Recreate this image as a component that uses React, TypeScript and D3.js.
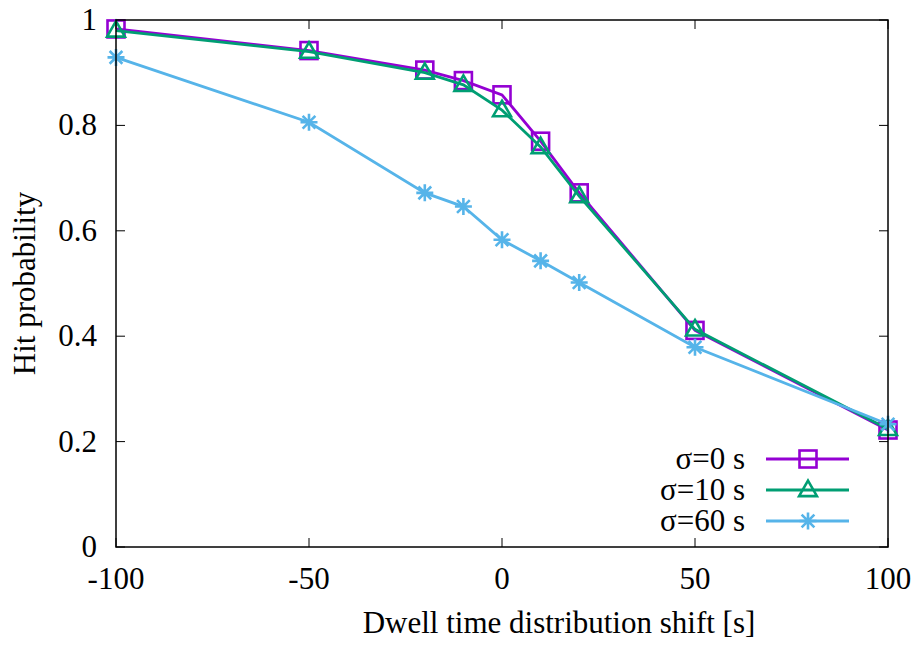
import React from "react";
import * as d3 from "d3";

const xValues = [-100, -50, -20, -10, 0, 10, 20, 50, 100];
const sigma0 = [0.983, 0.942, 0.905, 0.885, 0.858, 0.77, 0.672, 0.411, 0.222];
const sigma10 = [0.98, 0.94, 0.9, 0.877, 0.829, 0.759, 0.666, 0.413, 0.224];
const sigma60 = [0.929, 0.806, 0.672, 0.646, 0.583, 0.543, 0.502, 0.379, 0.233];
const seriesNames = ["σ=0 s", "σ=10 s", "σ=60 s"];
const xTicks = [-100, -50, 0, 50, 100];
const yTicks = [0, 0.2, 0.4, 0.6, 0.8, 1];

const colors = ["#9400d3", "#009e73", "#56b4e9"];
const markers = ["square", "triangle", "star"];

const W = 920, H = 646;
const L = 116, R = 888, T = 20, B = 547;
const FONT = "'Liberation Serif', 'Times New Roman', Times, serif";
const FS = 31;

function Marker({ type, x, y, color }: { type: string; x: number; y: number; color: string }) {
  const s = 8.5;
  if (type === "square") {
    return <rect x={x - s} y={y - s} width={2 * s} height={2 * s} fill="none" stroke={color} strokeWidth={2.6} />;
  }
  if (type === "triangle") {
    const h = s * 1.1;
    return (
      <path d={`M${x},${y - h}L${x + s * 1.05},${y + h * 0.65}L${x - s * 1.05},${y + h * 0.65}Z`} fill="none" stroke={color} strokeWidth={2.6} />
    );
  }
  const a = s * 0.75;
  return (
    <path
      d={`M${x - s},${y}H${x + s}M${x},${y - s}V${y + s}M${x - a},${y - a}L${x + a},${y + a}M${x - a},${y + a}L${x + a},${y - a}`}
      stroke={color}
      strokeWidth={2.6}
      fill="none"
    />
  );
}

const textStyle = { fontFamily: FONT, fontSize: FS };

export default function App() {
  const x = d3.scaleLinear().domain([-100, 100]).range([L, R]);
  const y = d3.scaleLinear().domain([0, 1]).range([B, T]);
  const series = [sigma0, sigma10, sigma60];
  const line = d3.line<number>().x((_, i) => x(xValues[i])).y((d) => y(d));
  const tickLen = 9;
  const legendY = [459, 490, 521];

  return (
    <svg width={W} height={H} style={{ position: "absolute", left: 0, top: 0, background: "#fff" }}>
      <rect x={0} y={0} width={W} height={H} fill="#fff" />
      {xTicks.map((t) => (
        <g key={"xt" + t}>
          <line x1={x(t)} x2={x(t)} y1={B} y2={B - tickLen} stroke="#000" strokeWidth={1} />
          <line x1={x(t)} x2={x(t)} y1={T} y2={T + tickLen} stroke="#000" strokeWidth={1} />
          <text x={x(t)} y={B + 42} textAnchor="middle" style={textStyle} fill="#000">
            {t}
          </text>
        </g>
      ))}
      {yTicks.map((t) => (
        <g key={"yt" + t}>
          <line x1={L} x2={L + tickLen} y1={y(t)} y2={y(t)} stroke="#000" strokeWidth={1} />
          <line x1={R} x2={R - tickLen} y1={y(t)} y2={y(t)} stroke="#000" strokeWidth={1} />
          <text x={97} y={y(t) + 10} textAnchor="end" style={textStyle} fill="#000">
            {t === 0 || t === 1 ? String(t) : t.toFixed(1)}
          </text>
        </g>
      ))}
      {series.map((s, si) => (
        <g key={"s" + si}>
          <path d={line(s) || ""} fill="none" stroke={colors[si]} strokeWidth={2.8} />
          {s.map((v, i) => (
            <Marker key={i} type={markers[si]} x={x(xValues[i])} y={y(v)} color={colors[si]} />
          ))}
        </g>
      ))}
      <rect x={L} y={T} width={R - L} height={B - T} fill="none" stroke="#000" strokeWidth={1.5} />
      {seriesNames.map((n, i) => (
        <g key={"lg" + i}>
          <text x={745} y={legendY[i] + 10} textAnchor="end" style={textStyle} fill="#000">
            {n}
          </text>
          <line x1={766} x2={849} y1={legendY[i]} y2={legendY[i]} stroke={colors[i]} strokeWidth={2.8} />
          <Marker type={markers[i]} x={808} y={legendY[i]} color={colors[i]} />
        </g>
      ))}
      <text x={559} y={633} textAnchor="middle" style={textStyle} fill="#000">
        Dwell time distribution shift [s]
      </text>
      <text transform={`translate(35,${(T + B) / 2}) rotate(-90)`} textAnchor="middle" style={textStyle} fill="#000">
        Hit probability
      </text>
    </svg>
  );
}
